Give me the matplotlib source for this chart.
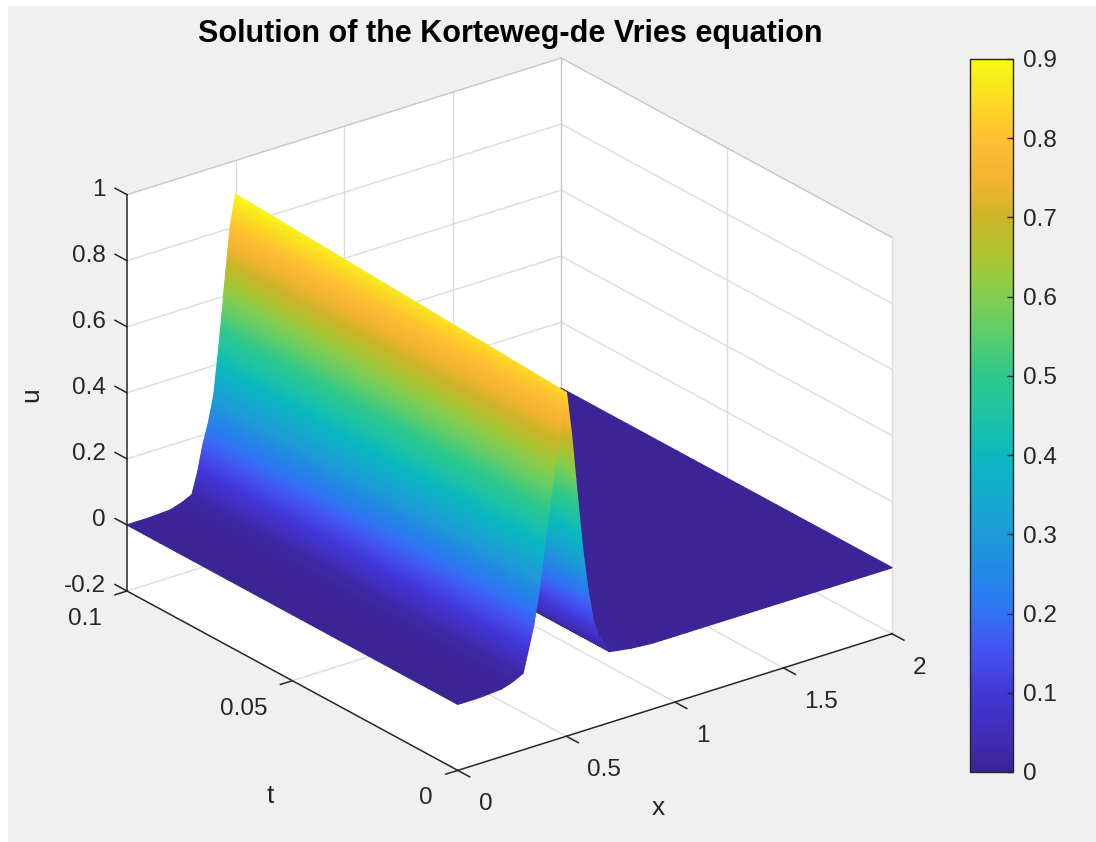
import numpy as np
import matplotlib
matplotlib.use('Agg')
import matplotlib.pyplot as plt
from matplotlib.colors import LinearSegmentedColormap, Normalize
from matplotlib.cm import ScalarMappable
from matplotlib.patches import Rectangle
from mpl_toolkits.mplot3d import proj3d
from mpl_toolkits.mplot3d.art3d import Poly3DCollection

plt.rcParams['font.family'] = ['Liberation Sans', 'DejaVu Sans']

W, H = 1096, 842

# values
x_vals = [0, 0.1, 0.2, 0.25, 0.3, 0.325, 0.35, 0.375, 0.4, 0.425, 0.45, 0.475, 0.5, 0.525, 0.55, 0.575, 0.6,
          0.625, 0.65, 0.7, 0.8, 0.9, 1.0, 1.5, 2.0]
t_vals = [0, 0.1]
u_t0 = [0, 0, 0.005, 0.015, 0.032, 0.10, 0.17, 0.27, 0.40, 0.52, 0.64, 0.75, 0.84, 0.70, 0.52, 0.35, 0.22,
        0.12, 0.07, 0.015, 0.005, 0, 0, 0, 0]
u_t1 = [0, 0, 0.004, 0.014, 0.03, 0.09, 0.17, 0.23, 0.31, 0.46, 0.635, 0.80, 0.897, 0.76, 0.57, 0.38, 0.24,
        0.13, 0.07, 0.015, 0.005, 0, 0, 0, 0]

x_ticks = [0, 0.5, 1, 1.5, 2]
x_labels = ['0', '0.5', '1', '1.5', '2']
t_ticks = [0, 0.05, 0.1]
t_labels = ['0', '0.05', '0.1']
u_ticks = [-0.2, 0, 0.2, 0.4, 0.6, 0.8, 1]
u_labels = ['-0.2', '0', '0.2', '0.4', '0.6', '0.8', '1']
cbar_ticks = [0, 0.1, 0.2, 0.3, 0.4, 0.5, 0.6, 0.7, 0.8, 0.9]
cbar_labels = ['0', '0.1', '0.2', '0.3', '0.4', '0.5', '0.6', '0.7', '0.8', '0.9']

# colormap, colours at these u values
cmap_u = [0, 0.05, 0.1, 0.15, 0.2, 0.25, 0.3, 0.35, 0.4, 0.45, 0.5, 0.55, 0.6, 0.65, 0.7, 0.75, 0.8, 0.85, 0.9]
cmap_rgb = ['#3c2396', '#412db9', '#4137d7', '#4650f0', '#3273f5', '#2387e6', '#1e9bd7', '#14aacd', '#0ab9be',
            '#1ec3a5', '#2dc88c', '#5acd6e', '#82cd50', '#aac332', '#cdb428', '#f5b432', '#ffbe32', '#fadc23', '#f8fa14']
parula = LinearSegmentedColormap.from_list('parula', [(u / 0.9, c) for u, c in zip(cmap_u, cmap_rgb)], N=256)
norm = Normalize(0, 0.9)

TEXT = '#262626'
GRID = '#dcdcdc'
EDGE = '#c6c6c6'
FS = 17.5

fig = plt.figure(figsize=(W / 100, H / 100), dpi=100, facecolor='white')
fig.add_artist(Rectangle((8 / W, 0), 1, 1 - 6 / H, transform=fig.transFigure, facecolor='#f0f0f0', edgecolor='none', zorder=-5))

ax = fig.add_axes([-0.15, -0.15, 1.3, 1.3], projection='3d', proj_type='ortho')
ax.patch.set_visible(False)
ax.computed_zorder = False
ax.set_axis_off()
ax.set_xlim(0, 2, view_margin=0)
ax.set_ylim(0, 0.1, view_margin=0)
ax.set_zlim(-0.2, 1, view_margin=0)
ax.view_init(elev=24.4, azim=-127.3)
aspect = (545.6, 545.6, 435)
zoom = 1.0
ax.set_box_aspect(aspect, zoom=zoom)


def to_px(x, y, z):
    xs, ys, _ = proj3d.proj_transform(x, y, z, ax.get_proj())
    return ax.transData.transform((xs, ys))


# fit the box to where it sits in the picture
fig.canvas.draw()
p1 = to_px(0, 0.1, -0.2)
p2 = to_px(2, 0, -0.2)
zoom = zoom * (892 - 127) / (p2[0] - p1[0])
ax.set_box_aspect(aspect, zoom=zoom)
fig.canvas.draw()
p1 = to_px(0, 0.1, -0.2)
pos = ax.get_position(original=True)
ax.set_position([pos.x0 + (127 - p1[0]) / W, pos.y0 + (H - 591 - p1[1]) / H, pos.width, pos.height])
fig.canvas.draw()

# walls
walls = [[(0, 0.1, -0.2), (2, 0.1, -0.2), (2, 0.1, 1), (0, 0.1, 1)],
         [(2, 0, -0.2), (2, 0.1, -0.2), (2, 0.1, 1), (2, 0, 1)],
         [(0, 0, -0.2), (2, 0, -0.2), (2, 0.1, -0.2), (0, 0.1, -0.2)]]
ax.add_collection3d(Poly3DCollection(walls, facecolors='white', edgecolors='none', zorder=1))

# grid
for xv in x_ticks[1:-1]:
    ax.plot([xv, xv], [0.1, 0.1], [-0.2, 1], color=GRID, lw=1, zorder=2)
    ax.plot([xv, xv], [0, 0.1], [-0.2, -0.2], color=GRID, lw=1, zorder=2)
for tv in t_ticks[1:-1]:
    ax.plot([2, 2], [tv, tv], [-0.2, 1], color=GRID, lw=1, zorder=2)
    ax.plot([0, 2], [tv, tv], [-0.2, -0.2], color=GRID, lw=1, zorder=2)
for uv in u_ticks[:-1]:
    ax.plot([0, 2], [0.1, 0.1], [uv, uv], color=GRID, lw=1, zorder=2)
    ax.plot([2, 2], [0, 0.1], [uv, uv], color=GRID, lw=1, zorder=2)
ax.plot([0, 2, 2], [0.1, 0.1, 0], [1, 1, 1], color=EDGE, lw=1, zorder=2)
ax.plot([2, 2], [0.1, 0.1], [-0.2, 1], color=EDGE, lw=1, zorder=2)
ax.plot([2, 2], [0, 0], [-0.2, 1], color=GRID, lw=1, zorder=2)

# surface, finer mesh only so the colour runs smoothly like shading interp
xf = np.concatenate([np.linspace(0, 0.3, 16)[:-1], np.linspace(0.3, 0.7, 281)[:-1], np.linspace(0.7, 2, 66)])
tf = np.linspace(0, 0.1, 21)
row0 = np.interp(xf, x_vals, u_t0)
row1 = np.interp(xf, x_vals, u_t1)
s = (tf - t_vals[0]) / (t_vals[1] - t_vals[0])
U = np.outer(1 - s, row0) + np.outer(s, row1)
X, T = np.meshgrid(xf, tf)
ax.plot_surface(X, T, U, rstride=1, cstride=1, facecolors=parula(norm(U)), shade=False, linewidth=0.9, zorder=3)

# axis lines and ticks
ax.plot([0, 0], [0.1, 0.1], [-0.2, 1], color=TEXT, lw=1.1, zorder=4)
ax.plot([0, 2], [0, 0], [-0.2, -0.2], color=TEXT, lw=1.1, zorder=4)
ax.plot([0, 0], [0, 0.1], [-0.2, -0.2], color=TEXT, lw=1.1, zorder=4)
for uv in u_ticks:
    ax.plot([0, 0], [0.1, 0.1036], [uv, uv], color=TEXT, lw=1.1, zorder=4)
for xv in x_ticks:
    ax.plot([xv, xv], [0, -0.0036], [-0.2, -0.2], color=TEXT, lw=1.1, zorder=4)
for tv in t_ticks:
    ax.plot([0, -0.055], [tv, tv], [-0.2, -0.2], color=TEXT, lw=1.1, zorder=4)


def tick_text(pt, label, dx, dy, ha):
    px = to_px(*pt)
    fig.text((px[0] + dx) / W, (px[1] - dy) / H, label, ha=ha, va='center', fontsize=FS, color=TEXT)


for uv, lab in zip(u_ticks, u_labels):
    tick_text((0, 0.1, uv), lab, -21, -5, 'right')
for xv, lab in zip(x_ticks, x_labels):
    tick_text((xv, 0, -0.2), lab, 21, 34, 'left')
for tv, lab in zip(t_ticks, t_labels):
    tick_text((0, tv, -0.2), lab, -25, 28, 'right')

fig.text(658 / W, 1 - 808 / H, 'x', ha='center', va='center', fontsize=19, color=TEXT)
fig.text(270 / W, 1 - 796 / H, 't', ha='center', va='center', fontsize=19, color=TEXT)
fig.text(31 / W, 1 - 395 / H, 'u', ha='center', va='center', rotation=90, fontsize=19, color=TEXT)
fig.text(510 / W, 1 - 34 / H, 'Solution of the Korteweg-de Vries equation', ha='center', va='center',
         fontsize=22, fontweight='bold', color='black')

# colorbar
cax = fig.add_axes([970 / W, (H - 772) / H, 43 / W, 713 / H])
cb = fig.colorbar(ScalarMappable(norm=norm, cmap=parula), cax=cax, ticks=cbar_ticks)
cb.ax.set_yticklabels(cbar_labels)
cb.ax.tick_params(direction='in', length=4.5, width=1, color=TEXT, labelsize=FS, labelcolor=TEXT, pad=7)
cb.outline.set_edgecolor(TEXT)
cb.outline.set_linewidth(1)

fig.savefig('out.png', dpi=100)
